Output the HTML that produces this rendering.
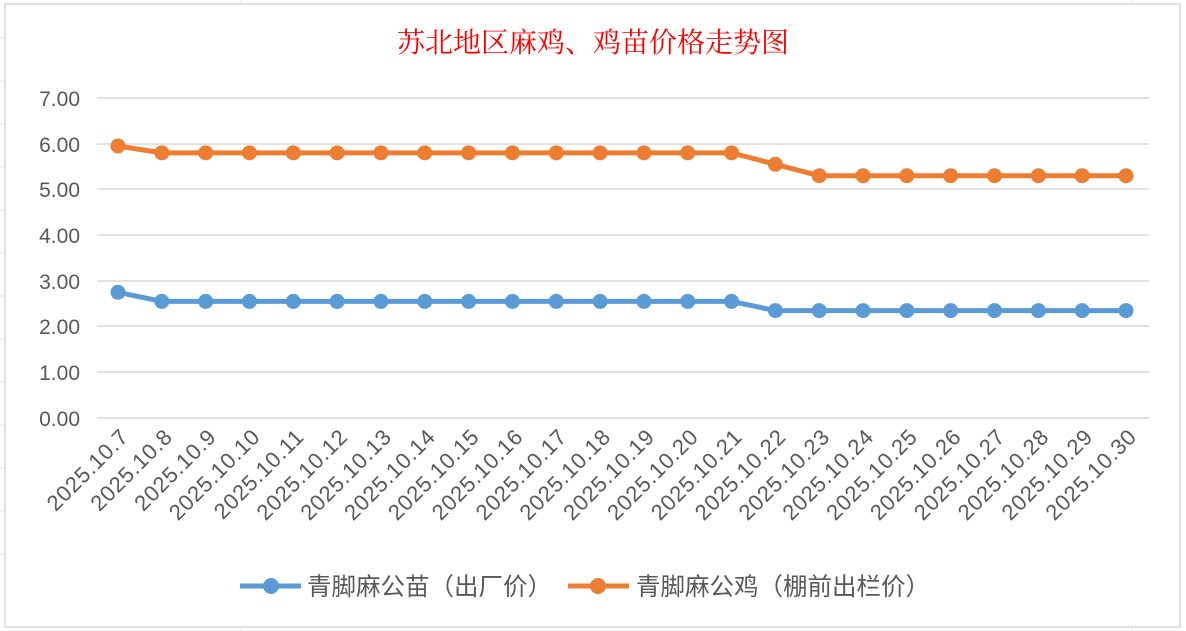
<!DOCTYPE html>
<html><head><meta charset="utf-8"><style>
body{margin:0;background:#fff;}
svg{display:block;font-family:"Liberation Sans","Noto Sans CJK SC",sans-serif;}
</style></head><body>
<svg width="1186" height="631" viewBox="0 0 1186 631" xmlns="http://www.w3.org/2000/svg">
<rect width="1186" height="631" fill="#fff"/>
<g stroke="#e6e6e6" stroke-width="1">
<line x1="241" y1="0" x2="241" y2="631"/><line x1="1132" y1="0" x2="1132" y2="631"/>
<line x1="0" y1="38" x2="6" y2="38"/><line x1="0" y1="81" x2="6" y2="81"/><line x1="0" y1="124" x2="6" y2="124"/><line x1="0" y1="167" x2="6" y2="167"/><line x1="0" y1="210" x2="6" y2="210"/><line x1="0" y1="253" x2="6" y2="253"/><line x1="0" y1="296" x2="6" y2="296"/><line x1="0" y1="339" x2="6" y2="339"/><line x1="0" y1="382" x2="6" y2="382"/><line x1="0" y1="425" x2="6" y2="425"/><line x1="0" y1="468" x2="6" y2="468"/><line x1="0" y1="511" x2="6" y2="511"/><line x1="0" y1="554" x2="6" y2="554"/>
</g>
<rect x="5" y="4" width="1175" height="623" fill="#fff" stroke="#d9d9d9" stroke-width="1.5"/>
<text x="593" y="52" font-size="28" fill="#ff0000" text-anchor="middle" font-family="'Noto Serif CJK SC',serif">苏北地区麻鸡、鸡苗价格走势图</text>
<g stroke="#d9d9d9" stroke-width="1.5">
<line x1="97" y1="98" x2="1149" y2="98"/><line x1="97" y1="144" x2="1149" y2="144"/><line x1="97" y1="189" x2="1149" y2="189"/><line x1="97" y1="235" x2="1149" y2="235"/><line x1="97" y1="281" x2="1149" y2="281"/><line x1="97" y1="326" x2="1149" y2="326"/><line x1="97" y1="372" x2="1149" y2="372"/><line x1="97" y1="418" x2="1149" y2="418"/>
</g>
<g font-size="21" fill="#595959" text-anchor="end">
<text x="80" y="106">7.00</text><text x="80" y="152">6.00</text><text x="80" y="197">5.00</text><text x="80" y="243">4.00</text><text x="80" y="289">3.00</text><text x="80" y="334">2.00</text><text x="80" y="380">1.00</text><text x="80" y="426">0.00</text>
</g>
<g id="lbl" font-size="22" fill="#595959" text-anchor="end" letter-spacing="0.8"></g>
<polyline id="b" fill="none" stroke="#5b9bd5" stroke-width="5" stroke-linejoin="round"/>
<polyline id="o" fill="none" stroke="#ed7d31" stroke-width="5" stroke-linejoin="round"/>
<g id="m"></g>
<line x1="240" y1="586" x2="301" y2="586" stroke="#5b9bd5" stroke-width="5"/>
<circle cx="271" cy="586" r="8" fill="#5b9bd5"/>
<text x="307" y="595" font-size="24.5" fill="#595959">青脚麻公苗（出厂价）</text>
<line x1="568" y1="586" x2="629" y2="586" stroke="#ed7d31" stroke-width="5"/>
<circle cx="598" cy="586" r="8" fill="#ed7d31"/>
<text x="636" y="595" font-size="24.5" fill="#595959">青脚麻公鸡（棚前出栏价）</text>
</svg>
<script>
var ns="http://www.w3.org/2000/svg";
var blue=[2.75],org=[5.95];
for(var i=1;i<24;i++){blue.push(i<15?2.55:2.35);org.push(i<15?5.8:(i==15?5.55:5.3));}
var bp=[],op=[],m=document.getElementById('m'),l=document.getElementById('lbl');
function Y(v){return 418-v*45.714;}
for(var i=0;i<24;i++){
 var x=118+i*43.826;
 bp.push(x+","+Y(blue[i]));op.push(x+","+Y(org[i]));
 [[blue[i],"#5b9bd5"],[org[i],"#ed7d31"]].forEach(function(d){var c=document.createElementNS(ns,"circle");c.setAttribute("cx",x);c.setAttribute("cy",Y(d[0]));c.setAttribute("r",7.5);c.setAttribute("fill",d[1]);m.appendChild(c);});
 var t=document.createElementNS(ns,"text");var day=i+7;
 t.setAttribute("transform","translate("+(x+12)+",438) rotate(-45)");t.textContent="2025.10."+day;l.appendChild(t);
}
document.getElementById('b').setAttribute("points",bp.join(" "));
document.getElementById('o').setAttribute("points",op.join(" "));
</script>
</body></html>
